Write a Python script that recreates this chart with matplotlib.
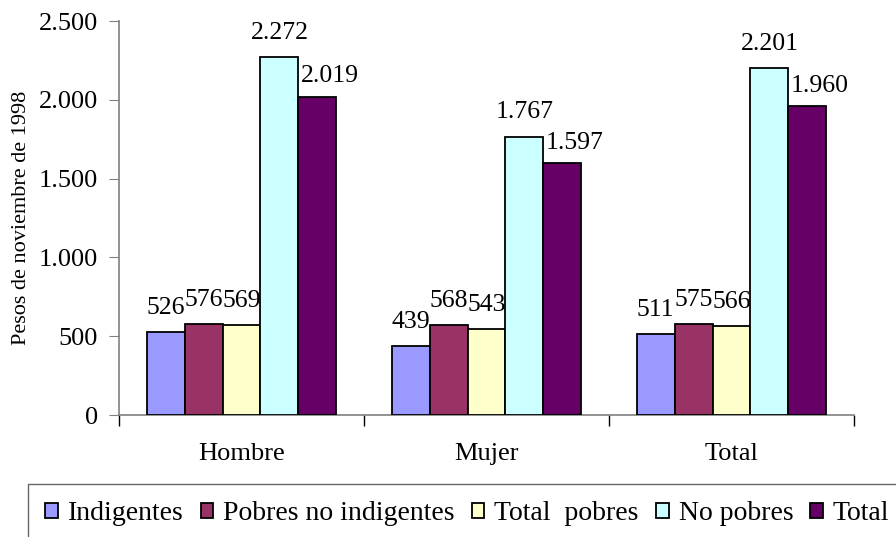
import matplotlib
matplotlib.use("Agg")
import matplotlib.pyplot as plt
import numpy as np
from matplotlib.ticker import FuncFormatter, FixedLocator

plt.rcParams['font.family'] = ['Liberation Serif', 'DejaVu Serif']

# ------------------ DATOS ------------------
grupos = ["Hombre", "Mujer", "Total"]
series = ["Indigentes", "Pobres no indigentes", "Total  pobres", "No pobres", "Total"]
indigentes = [526, 439, 511]
pobres_no_ind = [576, 568, 575]
total_pobres = [569, 543, 566]
no_pobres = [2272, 1767, 2201]
total = [2019, 1597, 1960]
colores = ["#9999FF", "#993366", "#FFFFCC", "#CCFFFF", "#660066"]

valores = [indigentes, pobres_no_ind, total_pobres, no_pobres, total]


def miles(v, pos=None):
    return f"{int(v):,}".replace(",", ".")


# ------------------ FIGURA ------------------
fig = plt.figure(figsize=(8.96, 5.37), dpi=100)
ax = fig.add_axes([119 / 896, 1 - 415 / 537, (854 - 119) / 896, (415 - 21) / 537])

x = np.arange(len(grupos))
w = 0.155
for i, (nombre, vals) in enumerate(zip(series, valores)):
    pos = x + (i - 2) * w
    ax.bar(pos, vals, width=w, color=colores[i], edgecolor="black",
           linewidth=1.3, label=nombre, zorder=3)
    # la ultima serie lleva la etiqueta algo corrida a la derecha
    dx = 9 if i == len(series) - 1 else 0
    dy = 10.5 if i == len(series) - 1 else 13
    for px, v in zip(pos, vals):
        ax.annotate(miles(v), (px, v), xytext=(dx, dy), textcoords="offset points",
                    ha="center", va="baseline", fontsize=18.5)

ax.set_xlim(-0.5, 2.5)
ax.set_ylim(0, 2500)
ax.set_yticks(np.arange(0, 2501, 500))
ax.yaxis.set_major_formatter(FuncFormatter(miles))
ax.set_xticks(x)
ax.set_xticklabels(grupos)
ax.xaxis.set_minor_locator(FixedLocator([-0.5, 0.5, 1.5, 2.5]))
ax.tick_params(axis="x", which="major", length=0, labelsize=19, pad=20)
ax.tick_params(axis="x", which="minor", length=8, direction="out", color="black", width=1)
ax.tick_params(axis="y", length=7, direction="out", labelsize=19, pad=8, color="#808080")

for s in ["top", "right"]:
    ax.spines[s].set_visible(False)
ax.spines["left"].set_color("#808080")
ax.spines["bottom"].set_color("#808080")
ax.spines["left"].set_linewidth(1.2)
ax.spines["bottom"].set_linewidth(1.2)

ax.set_ylabel("Pesos de noviembre de 1998", fontsize=16, labelpad=6)

leg = fig.legend(loc="upper left", bbox_to_anchor=(28 / 896, 1 - 484 / 537),
                 ncol=5, fontsize=20, frameon=True, fancybox=False,
                 handlelength=0.45, handleheight=0.45, handletextpad=0.36,
                 columnspacing=0.62, borderpad=0.62, borderaxespad=0)
leg.get_frame().set_edgecolor("#404040")
leg.get_frame().set_linewidth(1.0)

fig.savefig("out.png", dpi=100)
